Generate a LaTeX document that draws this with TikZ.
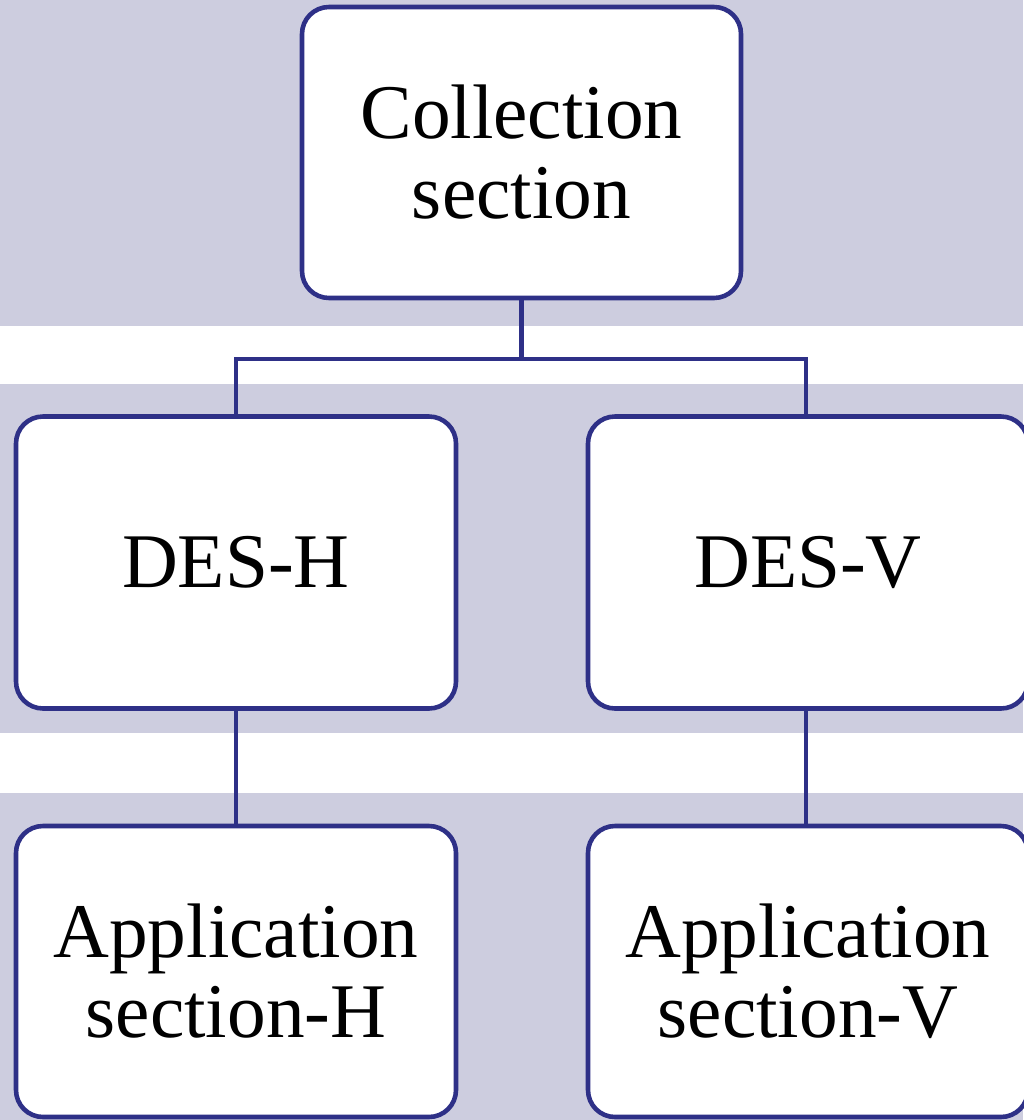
\documentclass[tikz,border=0pt]{standalone}
\usepackage{fontspec}
\setmainfont{Liberation Serif}
\usepackage{xcolor}
\usetikzlibrary{positioning,calc}
\definecolor{bandgray}{RGB}{205,205,223}
\definecolor{boxblue}{RGB}{46,48,135}
\tikzset{
  band/.style  = {fill=bandgray, draw=none},
  sect/.style  = {draw=boxblue, fill=white, rectangle, rounded corners=0.54cm,
                  line width=2.6pt, align=center, inner sep=0pt,
                  font=\fontsize{44}{45.5}\selectfont,
                  minimum width=8.8cm, minimum height=5.84cm},
  link/.style  = {draw=boxblue, line width=2.4pt}
}
\begin{document}
\begin{tikzpicture}

\useasboundingbox (0,0) rectangle (20.46,-22.4);

% --- background bands ---
\fill[band] (0,0) rectangle (20.46,-6.52);
\fill[band] (0,-7.68) rectangle (20.46,-14.66);
\fill[band] (0,-15.86) rectangle (20.46,-22.4);

% --- sections ---
\node[sect, minimum width=8.78cm, minimum height=5.82cm] (coll) at (10.43,-3.05)
     {Collection\\section};
\node[sect] (desH) at (4.72,-11.25) {DES-H};
\node[sect] (desV) at (16.16,-11.25) {DES-V};
\node[sect, minimum height=5.82cm] (appH) at (4.72,-19.43)
     {Application\\section-H};
\node[sect, minimum height=5.82cm] (appV) at (16.16,-19.43)
     {Application\\section-V};

% --- tree ---
\coordinate (split) at ($(coll.south)+(0,-1.18)$);
\draw[link] (coll.south) -- (split);
\draw[link] (split) -| ($(desH.north)+(0,0)$);
\draw[link] (split) -| ($(desV.north)+(-0.04,0)$);
\draw[link] (desH.south) -- (appH.north);
\draw[link] ($(desV.south)+(-0.04,0)$) -- ($(appV.north)+(-0.04,0)$);

\end{tikzpicture}
\end{document}
